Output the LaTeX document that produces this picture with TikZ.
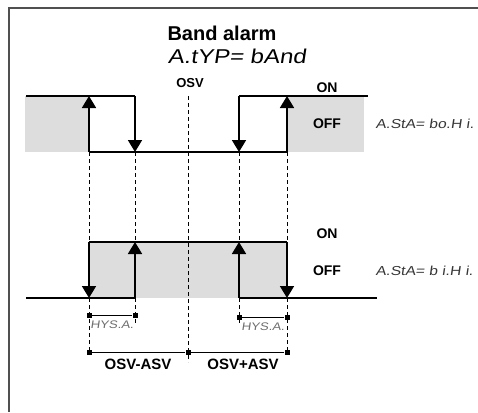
\documentclass[tikz,border=0pt]{standalone}
\usepackage{fontspec}
\setmainfont{Liberation Sans}
\newfontfamily\segfont{Liberation Sans}[FakeSlant=0.15,FakeStretch=1.2]
\usepackage{tikz}
\usetikzlibrary{arrows.meta}
\definecolor{bandgray}{RGB}{221,221,221}
\definecolor{framegray}{RGB}{80,80,80}
\definecolor{seggray}{RGB}{55,55,55}
\definecolor{hysgray}{RGB}{110,110,110}

\begin{document}
\begin{tikzpicture}[x=1pt, y=-1pt,
  switch/.style={line width=1.8pt, -{Triangle[width=14pt,length=12pt]}},
  level/.style={line width=1.1pt},
  guide/.style={line width=0.9pt, dash pattern=on 4pt off 3pt},
  endsq/.style={fill, minimum size=5pt, inner sep=0pt},
  lbl/.style={font=\bfseries\fontsize{14}{14}\selectfont},
  seg/.style={seggray, font=\segfont\fontsize{13}{13}\selectfont, anchor=west}]

  \useasboundingbox (0,0) rectangle (478,412);

  % Frame
  \draw[framegray, line width=1.6pt, line join=miter] (478,8) -- (9,8) -- (9,412);

  % Title
  \node[font=\bfseries\fontsize{20}{20}\selectfont] (title) at (222,33) {Band alarm};
  \node[font=\segfont\fontsize{20}{20}\selectfont] (typ) at (237,56) {A.tYP= bAnd};

  % Upper band (bo.Hi.)
  \fill[bandgray] (25,96) rectangle (89,152);
  \fill[bandgray] (287,96) rectangle (364,152);
  \draw[level] (26,96) -- (135,96);
  \draw[level] (239,96) -- (368,96);
  \draw[level] (89,152) -- (287,152);
  \draw[switch] (89,152) -- (89,96);
  \draw[switch] (135,96) -- (135,152);
  \draw[switch] (239,96) -- (239,152);
  \draw[switch] (287,152) -- (287,96);

  % Lower band (bi.Hi.)
  \fill[bandgray] (89,242) rectangle (287,298);
  \draw[level] (89,242) -- (287,242);
  \draw[level] (26,298) -- (135,298);
  \draw[level] (239,298) -- (377,298);
  \draw[switch] (89,242) -- (89,298);
  \draw[switch] (135,298) -- (135,242);
  \draw[switch] (239,298) -- (239,242);
  \draw[switch] (287,242) -- (287,298);

  % Dashed guides
  \draw[guide] (89,152) -- (89,242) (89,298) -- (89,352);
  \draw[guide] (135,152) -- (135,242) (135,298) -- (135,325);
  \draw[guide] (239,152) -- (239,242) (239,298) -- (239,325);
  \draw[guide] (287,152) -- (287,242) (287,298) -- (287,352);
  \draw[guide] (188,96) -- (188,362);

  % Hysteresis
  \node[endsq] (hysla) at (89,315) {};
  \node[endsq] (hyslb) at (135,315) {};
  \draw[line width=0.9pt] (hysla) -- (hyslb);
  \node[endsq] (hysra) at (239,317) {};
  \node[endsq] (hysrb) at (287,317) {};
  \draw[line width=0.9pt] (hysra) -- (hysrb);
  \node[hysgray, font=\segfont\fontsize{11}{11}\selectfont] (hysl) at (112,325) {HYS.A.};
  \node[hysgray, font=\segfont\fontsize{11}{11}\selectfont] (hysr) at (263,327) {HYS.A.};

  % Band limits
  \node[endsq] (lo) at (89,352) {};
  \node[endsq] (mid) at (188,352) {};
  \node[endsq] (hi) at (287,352) {};
  \draw[line width=0.9pt] (lo) -- (mid) -- (hi);
  \node[font=\bfseries\fontsize{15}{15}\selectfont] (osvm) at (138,364) {OSV-ASV};
  \node[font=\bfseries\fontsize{15}{15}\selectfont] (osvp) at (243,364) {OSV+ASV};

  % Labels
  \node[font=\bfseries\fontsize{13}{13}\selectfont] (osv) at (190,83) {OSV};
  \node[lbl] (on1) at (327,88) {ON};
  \node[lbl] (off1) at (327,124) {OFF};
  \node[lbl] (on2) at (327,234) {ON};
  \node[lbl] (off2) at (327,271) {OFF};
  \node[seg] (sta1) at (372,124) {A.StA= bo.H i.};
  \node[seg] (sta2) at (372,271) {A.StA= b i.H i.};

\end{tikzpicture}
\end{document}
